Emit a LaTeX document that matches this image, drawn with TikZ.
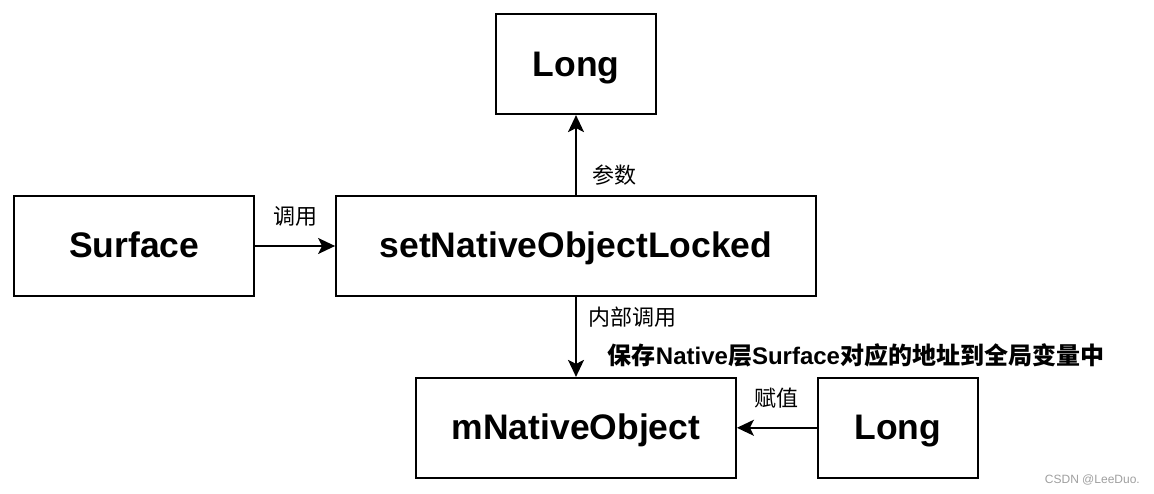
\documentclass[tikz,border=0pt]{standalone}
\usepackage{fontspec}
\setmainfont{Liberation Sans}
\newfontfamily\cjk{Noto Sans CJK SC}
\usetikzlibrary{arrows.meta,positioning}
\tikzset{
  box/.style={draw, line width=1.8pt, inner sep=0pt, minimum height=100pt,
              text height=24pt, text depth=0pt,
              font=\fontsize{35.5}{40}\selectfont\bfseries},
  flow/.style={-{Stealth[length=17pt, width=16pt, inset=4pt]}, line width=1.8pt},
  lbl/.style={font=\cjk\fontsize{22}{26}\selectfont, inner sep=0pt},
  note/.style={font=\bfseries\fontsize{24}{30}\selectfont, inner sep=0pt},
  wmark/.style={font=\fontsize{12}{14}\selectfont, text=gray!75, inner sep=0pt},
}

\begin{document}
\begin{tikzpicture}[x=1pt, y=-1pt, node distance=80pt]
  \useasboundingbox (0,0) rectangle (1154,494);
  \node[box, minimum width=480pt] (set) at (576,246) {setNativeObjectLocked};
  \node[box, minimum width=240pt, left=of set] (surface) {Surface};
  \node[box, minimum width=160pt, above=of set] (param) {Long};
  \node[box, minimum width=320pt, below=of set] (native) {mNativeObject};
  \node[box, minimum width=160pt, right=of native] (value) {Long};
  \draw[flow] (surface) -- (set) node[lbl, midway, above=19pt] {调用};
  \draw[flow] (set) -- (param) node[lbl, pos=0.25, right=16pt] {参数};
  \draw[flow] (set) -- (native) node[lbl, pos=0.25, right=12pt] {内部调用};
  \draw[flow] (value) -- (native) node[lbl, midway, above=19pt] {赋值};
  \node[note] (save) at (856,355)
    {{\cjk 保存}Native{\cjk 层}Surface{\cjk 对应的地址到全局变量中}};
  \node[wmark, anchor=east] (csdn) at (1140,480) {CSDN @LeeDuo.};
\end{tikzpicture}
\end{document}
